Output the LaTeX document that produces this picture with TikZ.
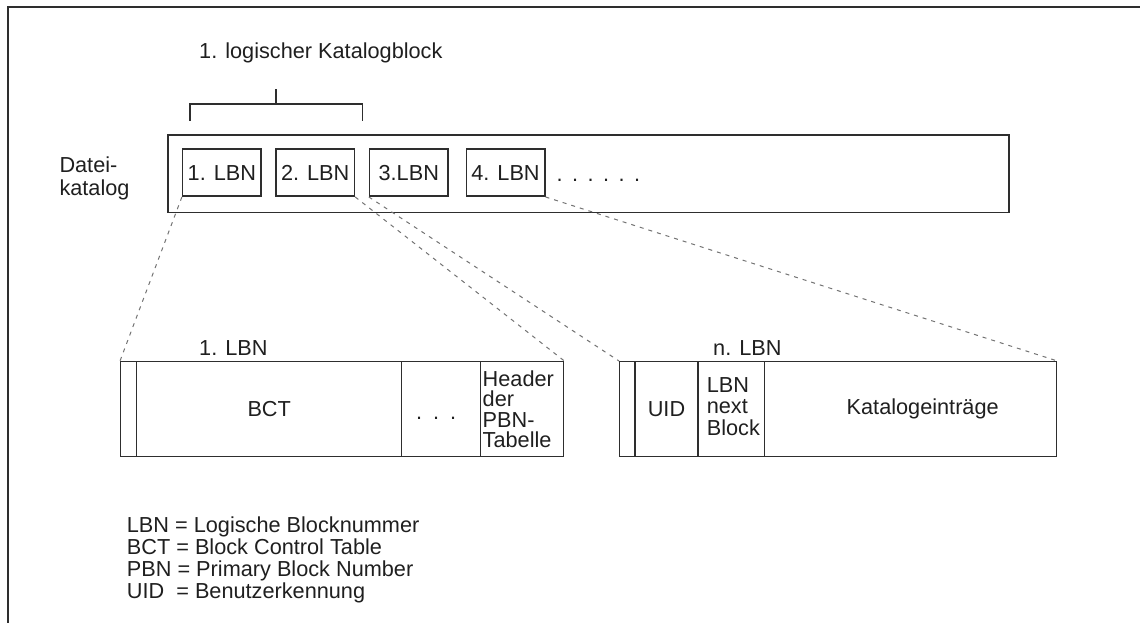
\documentclass[tikz,border=0pt]{standalone}
\usepackage{fontspec}
\setmainfont{Liberation Sans}
\definecolor{ink}{gray}{0.12}
\definecolor{linec}{gray}{0.18}
\definecolor{dashc}{gray}{0.45}
\newcommand{\bigfont}{\fontsize{21.7}{22.1}\selectfont}
\begin{document}
\begin{tikzpicture}[x=1pt,y=-1pt,
  txt/.style={font=\bigfont, text=ink, inner sep=0pt},
  cell/.style={draw=linec, line width=1.4pt, anchor=north west, inner sep=0pt, minimum height=95pt, txt},
  lbnbox/.style={draw=linec, line width=1.5pt, minimum width=78.5pt, minimum height=47pt, txt},
  zoomline/.style={draw=dashc, line width=1pt, dash pattern=on 4pt off 5pt},
  framec/.style={draw=linec, line width=2pt},
]
\useasboundingbox (0,0) rectangle (1140,623);

% outer frame (open at right and bottom)
\draw[framec] (1140,7.5) -- (8.3,7.5) -- (8.3,623);

% title and bracket
\node[txt, anchor=base west] (title) at (199,59) {1. logischer Katalogblock};
\draw[linec, line width=1.5pt] (190,120.7) -- (190,104) -- (362.7,104) -- (362.7,120.7);
\draw[linec, line width=1.5pt] (276,104) -- (276,89.3);

% Dateikatalog
\node[txt, align=left, anchor=base west, font=\fontsize{21.7}{23}\selectfont] (dklabel) at (59.3,195) {Datei-\\katalog};
\node[draw=linec, line width=1.8pt, anchor=north west, minimum width=841pt, minimum height=77.5pt, inner sep=0pt] (datei) at (167,134) {};
\node[lbnbox] (l1) at (221.9,172.7) {1. LBN};
\node[lbnbox] (l2) at (315.2,172.7) {2. LBN};
\node[lbnbox] (l3) at (408.8,172.7) {3.LBN};
\node[lbnbox] (l4) at (505.5,172.7) {4. LBN};
\node[txt, anchor=base west] (ddots) at (556.3,181) {.\hspace{9.5pt}.\hspace{9.5pt}.\hspace{9.5pt}.\hspace{9.5pt}.\hspace{9.5pt}.};

% lower left block: 1. LBN
\node[txt, anchor=base west] (lab1) at (199,355) {1. LBN};
\node[cell, minimum width=16pt] (a0) at (120,361) {};
\node[cell, minimum width=265pt] (bct) at (136,361) {BCT};
\node[cell, minimum width=79pt, label={[txt, xshift=-5pt, yshift=-9pt]center:.\hspace{11pt}.\hspace{11pt}.}] (adots) at (401,361) {};
\node[cell, minimum width=83pt, text width=79pt, align=left, inner xsep=2pt, font=\fontsize{21.7}{20.5}\selectfont] (hdr) at (480,361) {Header\\der\\PBN-\\Tabelle};

% lower right block: n. LBN
\node[txt, anchor=base west] (labn) at (713,355) {n. LBN};
\node[cell, minimum width=15.3pt] (r0) at (619,361) {};
\node[cell, minimum width=63pt] (uid) at (634.3,361) {UID};
\node[cell, minimum width=66.7pt, label={[txt, align=left, font=\fontsize{21.7}{21.5}\selectfont, xshift=2pt, yshift=3pt]center:LBN\\next\\Block}] (nxt) at (697.3,361) {};
\node[cell, minimum width=292pt, label={[txt, xshift=12pt]center:Katalogeinträge}] (kat) at (764,361) {};

% zoom connectors
\draw[zoomline] (l1.south west) -- (a0.north west);
\draw[zoomline] (l2.south east) -- (hdr.north east);
\draw[zoomline] (l3.south west) -- (r0.north west);
\draw[zoomline] (l4.south east) -- (kat.north east);

% legend
\node[txt, align=left, anchor=base west] (legend) at (126.7,598.3)
  {LBN = Logische Blocknummer\\BCT = Block Control Table\\PBN = Primary Block Number\\UID\ \ = Benutzerkennung};
\end{tikzpicture}
\end{document}
